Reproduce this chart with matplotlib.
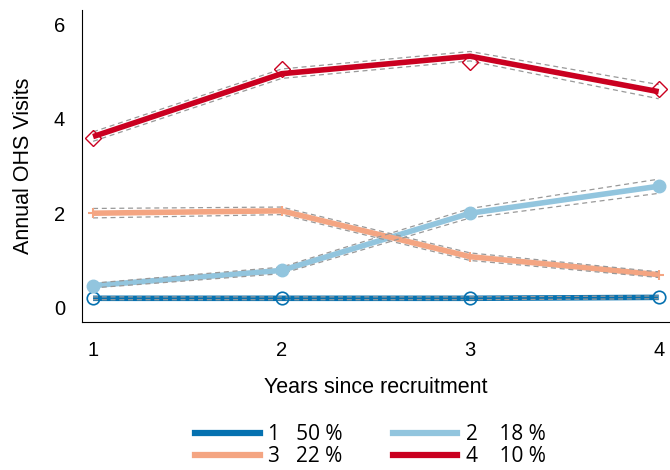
import matplotlib.pyplot as plt
from matplotlib.lines import Line2D

years = [1, 2, 3, 4]

# fitted trajectories per class
fit_1 = [0.20, 0.20, 0.20, 0.22]
fit_2 = [0.47, 0.79, 2.00, 2.57]
fit_3 = [2.00, 2.05, 1.08, 0.70]
fit_4 = [3.62, 4.95, 5.32, 4.57]

# observed means (markers)
obs_1 = [0.20, 0.20, 0.20, 0.22]
obs_2 = [0.47, 0.79, 2.00, 2.57]
obs_3 = [2.00, 2.05, 1.08, 0.70]
obs_4 = [3.60, 5.05, 5.20, 4.62]

# confidence bands
lo_1 = [0.17, 0.17, 0.17, 0.19]
hi_1 = [0.23, 0.23, 0.23, 0.25]
lo_2 = [0.42, 0.72, 1.90, 2.42]
hi_2 = [0.52, 0.86, 2.10, 2.72]
lo_3 = [1.90, 1.97, 1.00, 0.64]
hi_3 = [2.10, 2.13, 1.16, 0.76]
lo_4 = [3.52, 4.85, 5.22, 4.42]
hi_4 = [3.72, 5.05, 5.42, 4.72]

labels = ["1   50 %", "2    18 %", "3   22 %", "4    10 %"]
colors = ["#0571b0", "#92c5de", "#f4a582", "#ca0020"]

plt.rcParams["font.family"] = ["Liberation Sans", "DejaVu Sans"]

fig = plt.figure(figsize=(6.7, 4.7), dpi=100)
ax = fig.add_axes([0.122, 0.315, 0.878, 0.664])

fits = [fit_1, fit_2, fit_3, fit_4]
los = [lo_1, lo_2, lo_3, lo_4]
his = [hi_1, hi_2, hi_3, hi_4]

for i in range(4):
    ax.plot(years, fits[i], color=colors[i], lw=4, zorder=2, solid_capstyle="butt")
    ax.plot(years, los[i], color="#999999", lw=0.9, ls=(0, (4, 3)), zorder=3)
    ax.plot(years, his[i], color="#999999", lw=0.9, ls=(0, (4, 3)), zorder=3)

ax.plot(years, obs_1, ls="none", marker="o", ms=9, mfc="none", mec=colors[0], mew=1.2, zorder=4)
ax.plot(years, obs_2, ls="none", marker="o", ms=9, mfc=colors[1], mec=colors[1], zorder=4)
ax.plot(years, obs_3, ls="none", marker="+", ms=7, mec=colors[2], mew=1.5, zorder=4)
ax.plot(years, obs_4, ls="none", marker="D", ms=8, mfc="none", mec=colors[3], mew=1.0, zorder=4)

ax.set_xlim(0.94, 4.06)
ax.set_ylim(-0.3, 6.3)
ax.set_xticks(years)
ax.set_yticks([0, 2, 4, 6])
ax.tick_params(length=0, labelsize=14.5)
ax.tick_params(axis="x", pad=14)
ax.tick_params(axis="y", pad=12)
ax.spines["top"].set_visible(False)
ax.spines["right"].set_visible(False)
ax.set_xlabel("Years since recruitment", fontsize=15.5, labelpad=12)
ax.set_ylabel("Annual OHS Visits", fontsize=15.5, labelpad=14)

handles = [Line2D([0], [0], color=c, lw=4.5) for c in colors]
order = [0, 2, 1, 3]
fig.legend([handles[k] for k in order], [labels[k] for k in order],
           loc="center", bbox_to_anchor=(0.553, 0.052), ncol=2, frameon=False,
           handlelength=3.1, handletextpad=0.4, columnspacing=2.4, labelspacing=0.05,
           borderpad=0.1, prop={"family": "Open Sans", "size": 15})

fig.savefig("out.png", dpi=100)
